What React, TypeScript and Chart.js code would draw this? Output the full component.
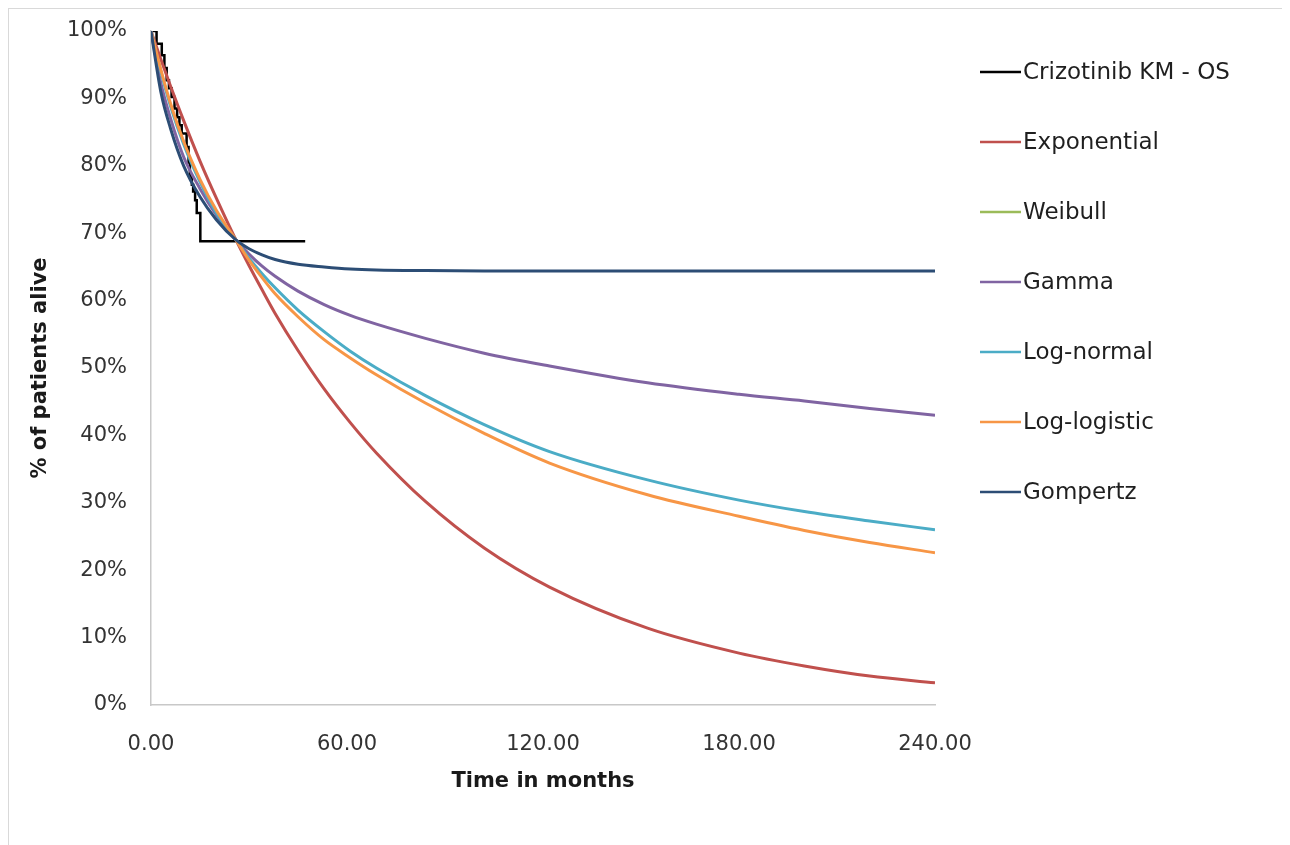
import { useEffect, useRef } from "react";
import { Chart, registerables } from "chart.js";

Chart.register(...registerables);

// Series names and colours (legend order)
const seriesNames = [
  "Crizotinib KM - OS",
  "Exponential",
  "Weibull",
  "Gamma",
  "Log-normal",
  "Log-logistic",
  "Gompertz",
];
const seriesColors = ["#000000", "#C0504D", "#9BBB59", "#8064A2", "#4BACC6", "#F79646", "#2C4D75"];

// Kaplan-Meier observed overall survival (months, % alive)
const kmMonths = [0, 1.7, 3.3, 4.1, 4.8, 5.5, 6.3, 7.2, 8.0, 8.7, 9.4, 10.9, 11.5, 11.9, 12.5, 12.9, 13.5, 14.0, 15.1, 47.2];
const kmSurvival = [100, 98.1, 96.4, 94.5, 92.7, 91.5, 90.2, 88.5, 87.2, 86.0, 84.8, 82.8, 80.5, 78.4, 77.2, 76.2, 74.9, 73.0, 68.8, 68.8];

// Parametric extrapolations (months, % alive)
const fitMonths = [0, 3, 6, 10, 15, 20, 26, 30, 34, 38, 45, 53, 61, 69, 84, 102, 122, 152, 180, 200, 220, 240];
const exponential = [100, 95.8, 91.8, 86.7, 80.7, 75.2, 69.0, 65.2, 61.6, 58.1, 52.6, 46.9, 41.9, 37.4, 30.2, 23.3, 17.5, 11.4, 7.7, 5.8, 4.3, 3.3];
const weibull: number[] = [];
const gamma = [100, 92.3, 87.0, 81.3, 76.6, 72.7, 69.0, 66.9, 65.1, 63.6, 61.4, 59.4, 57.8, 56.5, 54.4, 52.2, 50.3, 47.8, 46.1, 45.1, 44.0, 43.0];
const logNormal = [100, 94.0, 88.8, 83.2, 77.6, 73.0, 69.0, 66.3, 64.0, 61.9, 58.6, 55.4, 52.5, 50.0, 45.9, 41.6, 37.6, 33.4, 30.4, 28.7, 27.3, 26.0];
const logLogistic = [100, 94.3, 89.2, 83.6, 78.0, 73.4, 69.0, 66.0, 63.4, 61.0, 57.6, 54.2, 51.5, 49.0, 44.8, 40.3, 35.9, 31.2, 28.0, 25.9, 24.1, 22.6];
const gompertz = [100, 91.0, 85.5, 80.0, 75.4, 72.0, 69.0, 67.7, 66.8, 66.1, 65.4, 65.0, 64.7, 64.55, 64.45, 64.4, 64.4, 64.4, 64.4, 64.4, 64.4, 64.4];

const xTicks = [0, 60, 120, 180, 240];
const yTicks = [0, 10, 20, 30, 40, 50, 60, 70, 80, 90, 100];

const FONT = "'DejaVu Sans', 'Open Sans', sans-serif";

const toPoints = (xs: number[], ys: number[]) => ys.map((y, i) => ({ x: xs[i], y }));

// Legend drawn as a single column on the right of the plot
const sideLegend = {
  id: "sideLegend",
  afterDraw(chart: any) {
    const ctx = chart.ctx as CanvasRenderingContext2D;
    ctx.save();
    ctx.font = `23px ${FONT}`;
    ctx.textBaseline = "middle";
    ctx.textAlign = "left";
    seriesNames.forEach((name, i) => {
      const y = 63 + i * 70;
      ctx.strokeStyle = seriesColors[i];
      ctx.lineWidth = 2.5;
      ctx.beginPath();
      ctx.moveTo(971, y);
      ctx.lineTo(1012, y);
      ctx.stroke();
      ctx.fillStyle = "#1f1f1f";
      ctx.fillText(name, 1014, y + 1);
    });
    ctx.restore();
  },
};

export default function App() {
  const canvasRef = useRef<HTMLCanvasElement | null>(null);

  useEffect(() => {
    if (!canvasRef.current) return;
    const series = [kmSurvival, exponential, weibull, gamma, logNormal, logLogistic, gompertz];
    const datasets = series.map((values, i) => ({
      label: seriesNames[i],
      data: i === 0 ? toPoints(kmMonths, values) : toPoints(fitMonths, values),
      borderColor: seriesColors[i],
      backgroundColor: seriesColors[i],
      borderWidth: i === 0 ? 2.5 : 3,
      pointRadius: 0,
      fill: false,
      stepped: i === 0 ? ("before" as const) : false,
      cubicInterpolationMode: "monotone" as const,
      // later series sit on top, KM at the bottom
      order: series.length - i,
    }));

    const chart = new Chart(canvasRef.current, {
      type: "line",
      data: { datasets },
      plugins: [sideLegend],
      options: {
        responsive: false,
        animation: false,
        layout: { padding: { left: 10, top: 22, right: 350, bottom: 40 } },
        plugins: { legend: { display: false }, tooltip: { enabled: false } },
        scales: {
          x: {
            type: "linear",
            min: 0,
            max: 240,
            afterBuildTicks: (s: any) => {
              s.ticks = xTicks.map((v) => ({ value: v }));
            },
            afterFit: (s: any) => {
              s.height = 100;
            },
            grid: { display: false, drawTicks: false },
            border: { display: true, color: "#c8c8c8", width: 1.5 },
            ticks: {
              padding: 27,
              maxRotation: 0,
              color: "#333333",
              font: { family: FONT, size: 21 },
              callback: (v: any) => Number(v).toFixed(2),
            },
            title: {
              display: true,
              text: "Time in months",
              color: "#1a1a1a",
              font: { family: FONT, size: 21, weight: "bold" },
              padding: { top: 0, bottom: 11 },
            },
          },
          y: {
            type: "linear",
            min: 0,
            max: 100,
            afterBuildTicks: (s: any) => {
              s.ticks = yTicks.map((v) => ({ value: v }));
            },
            afterFit: (s: any) => {
              s.width = 132;
              s.paddingTop = 0;
              s.paddingBottom = 0;
            },
            grid: { display: false, drawTicks: false },
            border: { display: true, color: "#c8c8c8", width: 1.5 },
            ticks: {
              padding: 24,
              color: "#333333",
              font: { family: FONT, size: 21 },
              callback: (v: any) => `${v}%`,
            },
            title: {
              display: true,
              text: "% of patients alive",
              color: "#1a1a1a",
              font: { family: FONT, size: 21, weight: "bold" },
              padding: { top: 9, bottom: 0 },
            },
          },
        },
      },
    });
    return () => chart.destroy();
  }, []);

  return (
    <div style={{ border: "1px solid #d9d9d9", width: 1276, height: 836, boxSizing: "content-box" }}>
      <canvas ref={canvasRef} width={1276} height={836} style={{ display: "block" }} />
    </div>
  );
}
